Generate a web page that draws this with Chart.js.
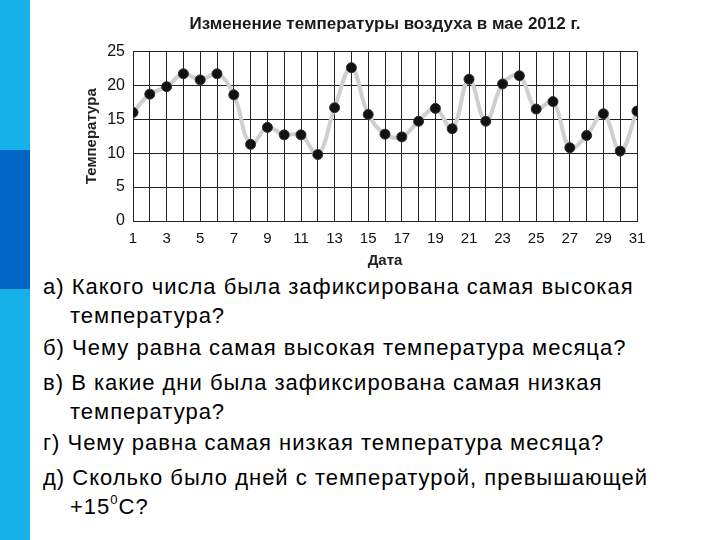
<!DOCTYPE html>
<html>
<head>
<meta charset="utf-8">
<script src="https://cdn.jsdelivr.net/npm/chart.js@4"></script>
<style>
  body { margin: 0; width: 720px; height: 540px; overflow: hidden; background: #fff; position: relative; font-family: "Liberation Sans", Arial, sans-serif; }
  .bar { position: absolute; left: 0; width: 30px; }
  #chartBox { position: absolute; left: 0; top: 0; width: 720px; height: 270px; }
  .q { position: absolute; left: 43px; font-size: 22px; letter-spacing: 1px; line-height: 29px; color: #000; white-space: nowrap; }
  .q .cont { padding-left: 27px; }
  sup { font-size: 13px; line-height: 0; vertical-align: 10px; }
</style>
</head>
<body>
<div class="bar" style="top:0;height:150px;background:#15b2ea"></div>
<div class="bar" style="top:150px;height:139px;background:#0064c4"></div>
<div class="bar" style="top:289px;height:251px;background:#15b2ea"></div>

<div id="chartBox"><canvas id="tempChart"></canvas></div>

<div class="q" style="top:272px">а) Какого числа была зафиксирована самая высокая<br><span class="cont">температура?</span></div>
<div class="q" style="top:333px">б) Чему равна самая высокая температура месяца?</div>
<div class="q" style="top:368px">в) В какие дни была зафиксирована самая низкая<br><span class="cont">температура?</span></div>
<div class="q" style="top:428px">г) Чему равна самая низкая температура месяца?</div>
<div class="q" style="top:463px">д) Сколько было дней с температурой, превышающей<br><span class="cont">+15<sup>0</sup>С?</span></div>

<script>
/*************************************************
 * DATA
 *************************************************/
const days = [1,2,3,4,5,6,7,8,9,10,11,12,13,14,15,16,17,18,19,20,21,22,23,24,25,26,27,28,29,30,31];
const temps = [16,18.7,19.8,21.7,20.8,21.7,18.6,11.3,13.8,12.7,12.7,9.8,16.7,22.6,15.7,12.8,12.4,14.7,16.6,13.6,20.9,14.7,20.2,21.4,16.5,17.6,10.8,12.6,15.8,10.3,16.2];
const yTicks = [0,5,10,15,20,25];

const TITLE = "Изменение температуры воздуха в мае 2012 г.";
const X_TITLE = "Дата";
const Y_TITLE = "Температура";

/*************************************************
 * CHART
 *************************************************/
const points = days.map((d, i) => ({ x: d, y: temps[i] }));

new Chart(document.getElementById("tempChart"), {
  type: "line",
  data: {
    datasets: [{
      data: points,
      borderColor: "#cfcfcf",
      borderWidth: 4,
      tension: 0.4,
      pointRadius: 5,
      pointBackgroundColor: "#111",
      pointBorderColor: "#333",
      pointBorderWidth: 1
    }]
  },
  options: {
    responsive: true,
    maintainAspectRatio: false,
    animation: false,
    layout: { padding: { left: 80, right: 83, top: 0, bottom: 0 } },
    plugins: {
      legend: { display: false },
      tooltip: { enabled: false },
      title: {
        display: true,
        fullSize: false,
        text: TITLE,
        color: "#1a1a1a",
        font: { family: "Liberation Sans", size: 17, weight: "bold" },
        padding: { top: 14, bottom: 17 }
      }
    },
    scales: {
      x: {
        type: "linear",
        min: 1,
        max: 31,
        afterFit: s => { s.height = 49; },
        afterBuildTicks: s => { s.ticks = days.map(v => ({ value: v })); },
        grid: { color: "#222", lineWidth: 1, drawTicks: false },
        border: { color: "#222" },
        ticks: {
          autoSkip: false,
          maxRotation: 0,
          padding: 9,
          color: "#111",
          font: { family: "Liberation Sans", size: 15 },
          callback: v => (v % 2 === 1 ? String(v) : "")
        },
        title: {
          display: true,
          text: X_TITLE,
          color: "#222",
          font: { family: "Liberation Sans", size: 15, weight: "bold" },
          padding: { top: 0, bottom: 0 }
        }
      },
      y: {
        min: 0,
        max: 25,
        afterFit: s => { s.width = 53; },
        afterBuildTicks: s => { s.ticks = yTicks.map(v => ({ value: v })); },
        grid: { color: "#222", lineWidth: 1, drawTicks: false },
        border: { color: "#222" },
        ticks: {
          padding: 8,
          color: "#111",
          font: { family: "Liberation Sans", size: 16 }
        },
        title: {
          display: true,
          text: Y_TITLE,
          color: "#222",
          font: { family: "Liberation Sans", size: 15, weight: "bold" },
          padding: { top: 3, bottom: 3 }
        }
      }
    }
  }
});
</script>
</body>
</html>
